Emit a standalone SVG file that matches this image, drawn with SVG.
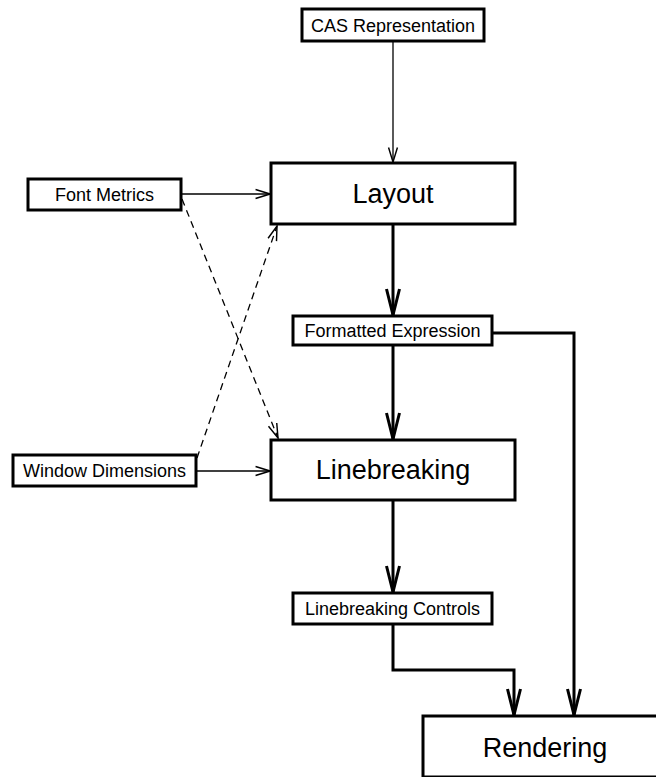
<svg xmlns="http://www.w3.org/2000/svg" width="656" height="777" viewBox="0 0 656 777">
<style>
.box{fill:#fff;stroke:#000;stroke-width:3}
.t{font-family:"Liberation Sans",Arial,sans-serif;fill:#000;text-anchor:middle}
.s{font-size:18px}
.b{font-size:27px}
.thin{fill:none;stroke:#000;stroke-width:1.3}
.thick{fill:none;stroke:#000;stroke-width:3}
.dash{fill:none;stroke:#000;stroke-width:1.3;stroke-dasharray:7,5}
</style>
<defs>
<marker id="ah" markerUnits="userSpaceOnUse" markerWidth="20" markerHeight="20" viewBox="-16 -8 18 16" refX="0" refY="0" orient="auto">
<path d="M-13,-4 L0,0 L-13,4" fill="none" stroke="#000" stroke-width="1.3"/>
</marker>
<marker id="ahb" markerUnits="userSpaceOnUse" markerWidth="34" markerHeight="20" viewBox="-30 -10 32 20" refX="0" refY="0" orient="auto">
<path d="M-26,-6.5 L0,0 L-26,6.5" fill="none" stroke="#000" stroke-width="3"/>
</marker>
</defs>
<g id="connectors">
<line class="thin" x1="393" y1="41" x2="393" y2="162" marker-end="url(#ah)"/>
<line class="thin" x1="181" y1="194" x2="270" y2="194" marker-end="url(#ah)"/>
<line class="thin" x1="196" y1="471" x2="270" y2="471" marker-end="url(#ah)"/>
<line class="dash" x1="182" y1="199" x2="278" y2="438" marker-end="url(#ah)"/>
<line class="dash" x1="197" y1="458" x2="277" y2="226" marker-end="url(#ah)"/>
<line class="thick" x1="393" y1="224" x2="393" y2="315" marker-end="url(#ahb)"/>
<line class="thick" x1="393" y1="345" x2="393" y2="439" marker-end="url(#ahb)"/>
<line class="thick" x1="393" y1="500" x2="393" y2="592" marker-end="url(#ahb)"/>
<polyline class="thick" points="393,624 393,670 514,670 514,715" marker-end="url(#ahb)"/>
<polyline class="thick" points="492,333 574,333 574,715" marker-end="url(#ahb)"/>
</g>
<g id="cas">
<rect class="box" x="302" y="9" width="182" height="32"/>
<text class="t s" x="393" y="31.5">CAS Representation</text>
</g>
<g id="layout">
<rect class="box" x="271" y="163" width="244" height="61"/>
<text class="t b" x="393" y="203">Layout</text>
</g>
<g id="fontmetrics">
<rect class="box" x="28" y="179" width="153" height="31"/>
<text class="t s" x="104.5" y="201">Font Metrics</text>
</g>
<g id="formatted">
<rect class="box" x="293" y="316" width="199" height="29"/>
<text class="t s" x="392.5" y="337">Formatted Expression</text>
</g>
<g id="window">
<rect class="box" x="13" y="455" width="183" height="31"/>
<text class="t s" x="104.5" y="477">Window Dimensions</text>
</g>
<g id="linebreaking">
<rect class="box" x="271" y="440" width="244" height="60"/>
<text class="t b" x="393" y="479">Linebreaking</text>
</g>
<g id="controls">
<rect class="box" x="293" y="593" width="199" height="31"/>
<text class="t s" x="392.5" y="615">Linebreaking Controls</text>
</g>
<g id="rendering">
<rect class="box" x="423" y="716" width="244" height="61"/>
<text class="t b" x="545" y="757">Rendering</text>
</g>
</svg>
